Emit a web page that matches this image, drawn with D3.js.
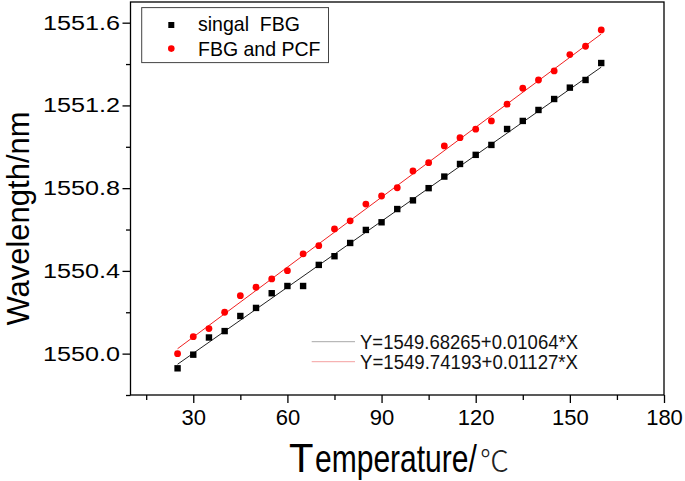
<!DOCTYPE html>
<html><head><meta charset="utf-8">
<script src="https://cdn.jsdelivr.net/npm/d3@7"></script>
<style>body{margin:0;background:#fff} svg{display:block}</style>
</head><body>
<svg id="c" width="685" height="481"></svg>
<script>
const temperatures = [25,30,35,40,45,50,55,60,65,70,75,80,85,90,95,100,105,110,115,120,125,130,135,140,145,150,155,160];
const singleFBG = [1549.929,1549.995,1550.078,1550.109,1550.182,1550.221,1550.292,1550.327,1550.327,1550.429,1550.471,1550.535,1550.598,1550.635,1550.699,1550.741,1550.800,1550.856,1550.917,1550.961,1551.009,1551.086,1551.125,1551.178,1551.231,1551.286,1551.323,1551.405];
const fbgPCF = [1550.000,1550.082,1550.121,1550.200,1550.280,1550.321,1550.361,1550.401,1550.482,1550.522,1550.603,1550.642,1550.723,1550.762,1550.802,1550.883,1550.923,1551.004,1551.044,1551.085,1551.125,1551.206,1551.283,1551.323,1551.367,1551.446,1551.486,1551.565];
const seriesNames = ["singal  FBG", "FBG and PCF"];
const fitIntercepts = [1549.68265, 1549.74193];
const fitSlopes = [0.01064, 0.01127];
const fitLabels = ["Y=1549.68265+0.01064*X", "Y=1549.74193+0.01127*X"];
const fitRange = [25, 160];
const xTicks = [30, 60, 90, 120, 150, 180];
const xMinorTicks = [15, 45, 75, 105, 135, 165];
const yTicks = [1550.0, 1550.4, 1550.8, 1551.2, 1551.6];
const yMinorTicks = [1549.8, 1550.2, 1550.6, 1551.0, 1551.4];

const svg = d3.select("#c");
const font = "'Liberation Sans', Arial, sans-serif";
const x = d3.scaleLinear().domain([10, 180]).range([130.5, 664]);
const y = d3.scaleLinear().domain([1549.8, 1551.7]).range([395, 2]);

// X axis
const gx = svg.append("g").attr("transform", "translate(0,395)")
  .call(d3.axisBottom(x).tickValues(xTicks).tickSize(8).tickPadding(6.4).tickFormat(d3.format("d")));
const gxm = svg.append("g").attr("transform", "translate(0,395)")
  .call(d3.axisBottom(x).tickValues(xMinorTicks).tickSize(5).tickFormat(""));
// Y axis
const gy = svg.append("g").attr("transform", "translate(130.5,0)")
  .call(d3.axisLeft(y).tickValues(yTicks).tickSize(8).tickPadding(2.5).tickFormat(d3.format(".1f")));
const gym = svg.append("g").attr("transform", "translate(130.5,0)")
  .call(d3.axisLeft(y).tickValues(yMinorTicks).tickSize(4.5).tickFormat(""));
[gx, gxm, gy, gym].forEach(g => {
  g.select(".domain").remove();
  g.selectAll("line").attr("stroke", "#000").attr("stroke-width", 1.3);
});
gx.selectAll("text").attr("font-family", font).attr("font-size", 22).attr("fill", "#000");
gy.selectAll("text").attr("font-family", font).attr("font-size", 20).attr("fill", "#000")
  .attr("textLength", 77).attr("lengthAdjust", "spacingAndGlyphs");

// Frame
svg.append("rect").attr("x", x(10)).attr("y", y(1551.7))
  .attr("width", x(180) - x(10)).attr("height", y(1549.8) - y(1551.7))
  .attr("fill", "none").attr("stroke", "#000").attr("stroke-width", 1.3);

// Fit lines
fitIntercepts.forEach((b, i) => {
  svg.append("line")
    .attr("x1", x(fitRange[0])).attr("y1", y(b + fitSlopes[i] * fitRange[0]))
    .attr("x2", x(fitRange[1])).attr("y2", y(b + fitSlopes[i] * fitRange[1]))
    .attr("stroke", i === 0 ? "#222" : "#f02020").attr("stroke-width", 1);
});

// Points
svg.append("g").selectAll("rect").data(temperatures).join("rect")
  .attr("x", (d, i) => x(d) - 3.2).attr("y", (d, i) => y(singleFBG[i]) - 3.2)
  .attr("width", 6.4).attr("height", 6.4).attr("fill", "#000");
svg.append("g").selectAll("circle").data(temperatures).join("circle")
  .attr("cx", d => x(d)).attr("cy", (d, i) => y(fbgPCF[i]))
  .attr("r", 3.4).attr("fill", "#ff0000");

// Legend
svg.append("rect").attr("x", 141.7).attr("y", 7.6).attr("width", 186.8).attr("height", 55)
  .attr("fill", "#fff").attr("stroke", "#444").attr("stroke-width", 1);
svg.append("rect").attr("x", 171.3 - 3).attr("y", 25 - 3).attr("width", 6).attr("height", 6).attr("fill", "#000");
svg.append("circle").attr("cx", 171.3).attr("cy", 48.6).attr("r", 3.3).attr("fill", "#ff0000");
svg.append("text").attr("x", 198).attr("y", 31).attr("font-family", font).attr("font-size", 21)
  .attr("textLength", 102).attr("lengthAdjust", "spacingAndGlyphs")
  .style("white-space", "pre").text(seriesNames[0]);
svg.append("text").attr("x", 198).attr("y", 56).attr("font-family", font).attr("font-size", 21)
  .attr("textLength", 122.5).attr("lengthAdjust", "spacingAndGlyphs").text(seriesNames[1]);

// Fit legend
const fitLegendColors = ["#a8a8a8", "#f4a0a0"];
fitLabels.forEach((t, i) => {
  const yy = 341.7 + i * 20;
  svg.append("line").attr("x1", 311.7).attr("x2", 355).attr("y1", yy).attr("y2", yy)
    .attr("stroke", fitLegendColors[i]).attr("stroke-width", 1);
  svg.append("text").attr("x", 360).attr("y", yy + 7.5).attr("font-family", font)
    .attr("font-size", 20).attr("fill", "#111")
    .attr("textLength", 218).attr("lengthAdjust", "spacingAndGlyphs").text(t);
});

// Axis titles
svg.append("text").attr("transform", "translate(28.5,218.5) rotate(-90)")
  .attr("text-anchor", "middle").attr("font-family", font).attr("font-size", 31).text("Wavelength/nm");
svg.append("text").attr("x", 289).attr("y", 472).attr("font-family", font).attr("font-size", 40).text("T");
svg.append("text").attr("transform", "translate(315,472) scale(0.79,1)")
  .attr("font-family", font).attr("font-size", 38).text("emperature/");
svg.append("text").attr("x", 480).attr("y", 472).attr("font-family", "'Noto Sans CJK SC', sans-serif")
  .attr("font-size", 29).attr("font-weight", 300).attr("fill", "#222").text("℃");
</script>
</body></html>
